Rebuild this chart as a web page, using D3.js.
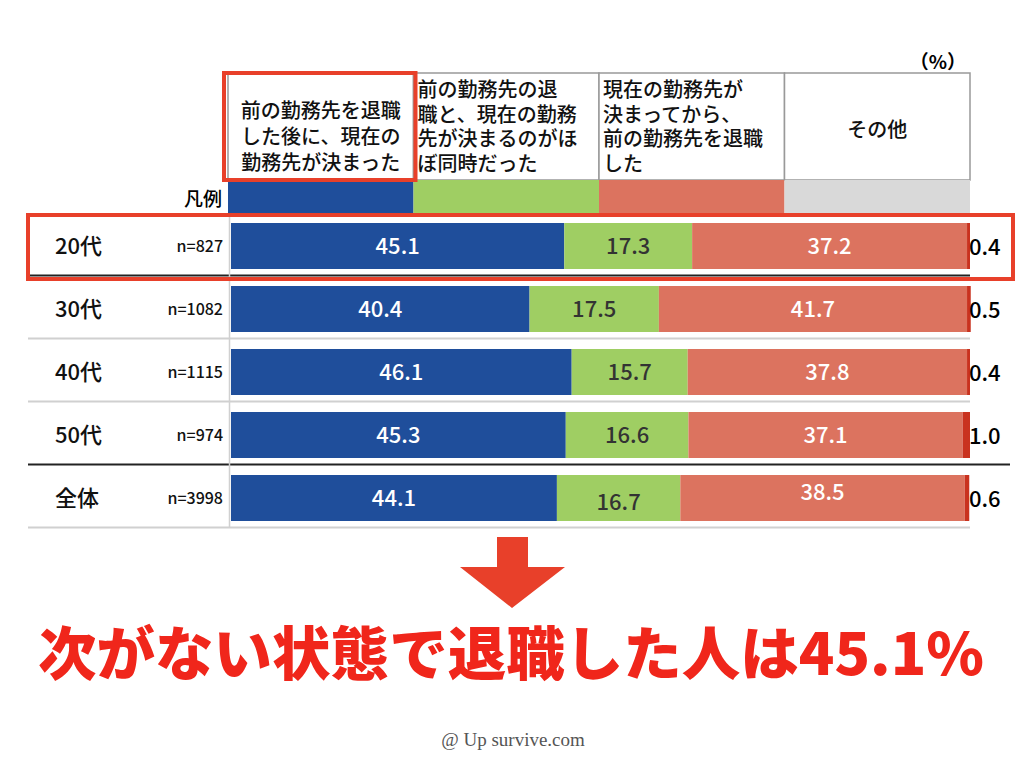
<!DOCTYPE html>
<html>
<head>
<meta charset="utf-8">
<script src="https://cdn.jsdelivr.net/npm/d3@7"></script>
<style>
	body { margin: 0; background: #fff; }
	svg text { font-family: "Noto Sans CJK JP", "Noto Sans", sans-serif; }
</style>
</head>
<body>
<div id="container"></div>
<script>
// data
var categories = ["20代", "30代", "40代", "50代", "全体"];
var sampleSizes = ["n=827", "n=1082", "n=1115", "n=974", "n=3998"];
var seriesNames = ["before", "same", "after", "other"];
var beforeValues = [45.1, 40.4, 46.1, 45.3, 44.1];
var sameValues   = [17.3, 17.5, 15.7, 16.6, 16.7];
var afterValues  = [37.2, 41.7, 37.8, 37.1, 38.5];
var otherValues  = [0.4, 0.5, 0.4, 1.0, 0.6];
var headerLines = [
	["前の勤務先を退職", "した後に、現在の", "勤務先が決まった"],
	["前の勤務先の退", "職と、現在の勤務", "先が決まるのがほ", "ぼ同時だった"],
	["現在の勤務先が", "決まってから、", "前の勤務先を退職", "した"],
	["その他"]
];

var colors = {before: "#1f4e9b", same: "#9fce63", after: "#dc735f", other: "#c9321f"};
var legendColors = {before: "#1f4e9b", same: "#9fce63", after: "#dc735f", other: "#d9d9d9"};
var labelColors = {before: "#fff", same: "#333", after: "#fff"};

var width = 1024, height = 768;

var svg = d3.select("#container")
	.append("svg")
	.attr("width", width)
	.attr("height", height);

var table = categories.map(function(c, i){
	return {cat: c, n: sampleSizes[i], before: beforeValues[i], same: sameValues[i], after: afterValues[i], other: otherValues[i]};
});

var stack = d3.stack().keys(seriesNames)(table);

// scales
var x = d3.scaleLinear().domain([0, 100]).range([231, 970]);
var row = d3.scaleBand().domain(categories).range([213, 528]);
var col = d3.scaleBand().domain(seriesNames).range([228, 970]);

var barTop = 10, barH = row.bandwidth() - 17;

// header boxes
var header = svg.append("g");
header.selectAll("rect.head")
	.data(seriesNames)
	.enter().append("rect")
	.attr("x", function(d){ return col(d); })
	.attr("y", 73)
	.attr("width", col.bandwidth())
	.attr("height", 107)
	.attr("fill", "#fff")
	.attr("stroke", "#999")
	.attr("stroke-width", 1.5);

header.selectAll("rect.leg")
	.data(seriesNames)
	.enter().append("rect")
	.attr("x", function(d){ return col(d); })
	.attr("y", 180)
	.attr("width", col.bandwidth())
	.attr("height", 33)
	.attr("fill", function(d){ return legendColors[d]; });

seriesNames.forEach(function(s, i){
	var lines = headerLines[i];
	var centered = (i == 0 || i == 3);
	var g = header.append("g");
	var y0 = i == 0 ? 111 : (i == 3 ? 130 : 90);
	var step = i == 0 ? 26 : 24.5;
	g.selectAll("text")
		.data(lines)
		.enter().append("text")
		.attr("x", centered ? col(s) + col.bandwidth() / 2 : col(s) + 4)
		.attr("y", function(d, j){ return y0 + j * step; })
		.attr("dy", "0.35em")
		.attr("text-anchor", centered ? "middle" : "start")
		.attr("font-size", 20)
		.attr("font-weight", 500)
		.attr("fill", "#111")
		.text(function(d){ return d; });
});

svg.append("text")
	.attr("x", 966).attr("y", 62).attr("dy", "0.35em")
	.attr("text-anchor", "end")
	.attr("font-size", 19).attr("font-weight", 700)
	.text("（%）");

svg.append("text")
	.attr("x", 222).attr("y", 199).attr("dy", "0.35em")
	.attr("text-anchor", "end")
	.attr("font-size", 19).attr("font-weight", 500)
	.text("凡例");

// row separators
svg.append("g").selectAll("line")
	.data(categories)
	.enter().append("line")
	.attr("x1", 28)
	.attr("x2", function(d){ return d == "50代" ? 1010 : 970; })
	.attr("y1", function(d){ return row(d) + row.bandwidth() - 0.5; })
	.attr("y2", function(d){ return row(d) + row.bandwidth() - 0.5; })
	.attr("stroke", function(d){ return (d == "50代" || d == "20代") ? "#222" : "#d0d0d0"; })
	.attr("stroke-width", 2);

svg.append("line")
	.attr("x1", 229.5).attr("x2", 229.5)
	.attr("y1", row.range()[0]).attr("y2", row.range()[1])
	.attr("stroke", "#d0d0d0").attr("stroke-width", 1.5);

// bars
var layers = svg.append("g").selectAll("g")
	.data(stack)
	.enter().append("g")
	.attr("fill", function(d){ return colors[d.key]; });

layers.selectAll("rect")
	.data(function(d){ return d; })
	.enter().append("rect")
	.attr("x", function(d){ return x(d[0]); })
	.attr("y", function(d){ return row(d.data.cat) + barTop; })
	.attr("width", function(d){ return Math.max(0, x(d[1]) - x(d[0])); })
	.attr("height", barH);

// value labels
var nudge = {"全体|same": 4, "全体|after": -6};
stack.forEach(function(layer){
	if (layer.key == "other") return;
	svg.append("g").selectAll("text")
		.data(layer)
		.enter().append("text")
		.attr("x", function(d){ return (x(d[0]) + x(d[1])) / 2; })
		.attr("y", function(d){ return row(d.data.cat) + barTop + barH / 2 + (nudge[d.data.cat + "|" + layer.key] || 0); })
		.attr("dy", "0.35em")
		.attr("text-anchor", "middle")
		.attr("font-size", 22)
		.attr("font-weight", 500)
		.attr("fill", labelColors[layer.key])
		.text(function(d){ return d.data[layer.key].toFixed(1); });
});

// other labels at tail
svg.append("g").selectAll("text")
	.data(table)
	.enter().append("text")
	.attr("x", x(100) - 1)
	.attr("y", function(d){ return row(d.cat) + barTop + barH / 2 + 1; })
	.attr("dy", "0.35em")
	.attr("font-size", 22)
	.attr("font-weight", 500)
	.attr("fill", "#000")
	.text(function(d){ return d.other.toFixed(1); });

// row labels
svg.append("g").selectAll("text")
	.data(table)
	.enter().append("text")
	.attr("x", 55)
	.attr("y", function(d){ return row(d.cat) + barTop + barH / 2; })
	.attr("dy", "0.35em")
	.attr("font-size", 22)
	.attr("font-weight", 500)
	.attr("fill", "#111")
	.text(function(d){ return d.cat; });

svg.append("g").selectAll("text")
	.data(table)
	.enter().append("text")
	.attr("x", 223)
	.attr("y", function(d){ return row(d.cat) + barTop + barH / 2; })
	.attr("dy", "0.35em")
	.attr("text-anchor", "end")
	.attr("font-size", 16)
	.attr("font-weight", 500)
	.attr("fill", "#111")
	.text(function(d){ return d.n; });

// highlight boxes
svg.append("rect")
	.attr("x", col("before") - 4).attr("y", 73)
	.attr("width", col.bandwidth() + 6).attr("height", 107)
	.attr("fill", "none").attr("stroke", "#e8402a").attr("stroke-width", 4);

svg.append("rect")
	.attr("x", 28).attr("y", row("20代") + 2)
	.attr("width", 985).attr("height", row.bandwidth() + 1)
	.attr("fill", "none").attr("stroke", "#e8402a").attr("stroke-width", 4);

// arrow
svg.append("path")
	.attr("d", "M497,537 L528,537 L528,567 L565,567 L512,608 L460,567 L497,567 Z")
	.attr("fill", "#e8402a");

svg.append("text")
	.attr("x", 511).attr("y", 655).attr("dy", "0.35em")
	.attr("text-anchor", "middle")
	.attr("font-size", 58)
	.attr("font-weight", 900)
	.attr("fill", "#f0261b")
	.attr("textLength", 946)
	.attr("lengthAdjust", "spacingAndGlyphs")
	.text("次がない状態で退職した人は45.1%");

svg.append("text")
	.attr("x", 513).attr("y", 739).attr("dy", "0.35em")
	.attr("text-anchor", "middle")
	.attr("font-size", 19)
	.attr("fill", "#555")
	.style("font-family", "'Liberation Serif', 'DejaVu Serif', serif")
	.text("@ Up survive.com");
</script>
</body>
</html>
